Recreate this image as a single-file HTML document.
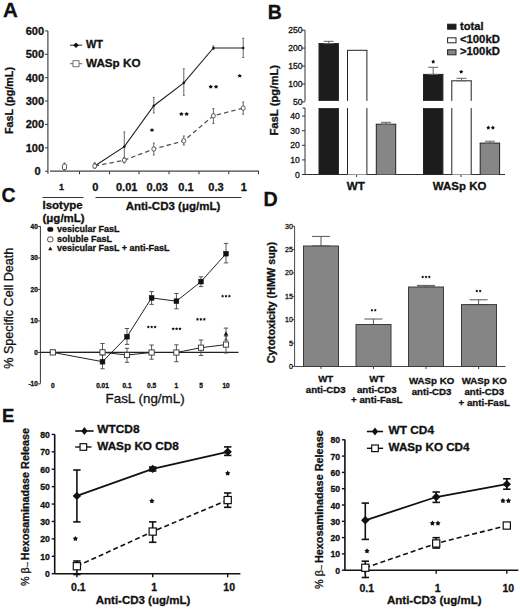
<!DOCTYPE html>
<html><head><meta charset="utf-8"><style>
html,body{margin:0;padding:0;background:#fff;width:520px;height:610px;overflow:hidden}
svg{display:block;font-family:"Liberation Sans", sans-serif}
text{stroke:#111;stroke-width:0.3px;paint-order:stroke}
</style></head><body>
<svg width="520" height="610" viewBox="0 0 520 610">
<rect width="520" height="610" fill="#fff"/>
<text x="3.0" y="16.7" font-size="20.5" font-weight="bold" text-anchor="start" fill="#111" >A</text>
<text x="267.8" y="18.7" font-size="19.5" font-weight="bold" text-anchor="start" fill="#111" >B</text>
<text x="1.5" y="201.5" font-size="19.5" font-weight="bold" text-anchor="start" fill="#111" >C</text>
<text x="263.5" y="206.3" font-size="19.5" font-weight="bold" text-anchor="start" fill="#111" textLength="14.2" lengthAdjust="spacingAndGlyphs" >D</text>
<text x="2.0" y="421.5" font-size="18.5" font-weight="bold" text-anchor="start" fill="#111" >E</text>
<line x1="47.9" y1="30.9" x2="47.9" y2="173.8" stroke="#444" stroke-width="1.2" />
<line x1="45.1" y1="171.2" x2="47.9" y2="171.2" stroke="#333" stroke-width="1" />
<text x="40.6" y="175.1" font-size="11" font-weight="bold" text-anchor="end" fill="#111" >0</text>
<line x1="45.1" y1="147.82" x2="47.9" y2="147.82" stroke="#333" stroke-width="1" />
<text x="44.1" y="151.72" font-size="11" font-weight="bold" text-anchor="end" fill="#111" >100</text>
<line x1="45.1" y1="124.44" x2="47.9" y2="124.44" stroke="#333" stroke-width="1" />
<text x="44.1" y="128.34" font-size="11" font-weight="bold" text-anchor="end" fill="#111" >200</text>
<line x1="45.1" y1="101.06" x2="47.9" y2="101.06" stroke="#333" stroke-width="1" />
<text x="44.1" y="104.96000000000001" font-size="11" font-weight="bold" text-anchor="end" fill="#111" >300</text>
<line x1="45.1" y1="77.68" x2="47.9" y2="77.68" stroke="#333" stroke-width="1" />
<text x="44.1" y="81.58000000000001" font-size="11" font-weight="bold" text-anchor="end" fill="#111" >400</text>
<line x1="45.1" y1="54.3" x2="47.9" y2="54.3" stroke="#333" stroke-width="1" />
<text x="44.1" y="58.199999999999996" font-size="11" font-weight="bold" text-anchor="end" fill="#111" >500</text>
<line x1="45.1" y1="30.92" x2="47.9" y2="30.92" stroke="#333" stroke-width="1" />
<text x="44.1" y="34.82" font-size="11" font-weight="bold" text-anchor="end" fill="#111" >600</text>
<line x1="50" y1="171.2" x2="259" y2="171.2" stroke="#444" stroke-width="1.2" />
<line x1="79.5" y1="171.2" x2="79.5" y2="174.2" stroke="#333" stroke-width="1" />
<line x1="109.5" y1="171.2" x2="109.5" y2="174.2" stroke="#333" stroke-width="1" />
<line x1="139" y1="171.2" x2="139" y2="174.2" stroke="#333" stroke-width="1" />
<line x1="169" y1="171.2" x2="169" y2="174.2" stroke="#333" stroke-width="1" />
<line x1="199" y1="171.2" x2="199" y2="174.2" stroke="#333" stroke-width="1" />
<line x1="228.8" y1="171.2" x2="228.8" y2="174.2" stroke="#333" stroke-width="1" />
<line x1="258.5" y1="171.2" x2="258.5" y2="174.2" stroke="#333" stroke-width="1" />
<line x1="94.7" y1="163" x2="94.7" y2="168" stroke="#666" stroke-width="1" />
<line x1="93.7" y1="163" x2="95.7" y2="163" stroke="#666" stroke-width="1" />
<line x1="93.7" y1="168" x2="95.7" y2="168" stroke="#666" stroke-width="1" />
<line x1="124.3" y1="132" x2="124.3" y2="159" stroke="#666" stroke-width="1" />
<line x1="123.3" y1="132" x2="125.3" y2="132" stroke="#666" stroke-width="1" />
<line x1="123.3" y1="159" x2="125.3" y2="159" stroke="#666" stroke-width="1" />
<line x1="153.8" y1="97.4" x2="153.8" y2="113" stroke="#666" stroke-width="1" />
<line x1="152.8" y1="97.4" x2="154.8" y2="97.4" stroke="#666" stroke-width="1" />
<line x1="152.8" y1="113" x2="154.8" y2="113" stroke="#666" stroke-width="1" />
<line x1="183.8" y1="68.8" x2="183.8" y2="95.3" stroke="#666" stroke-width="1" />
<line x1="182.8" y1="68.8" x2="184.8" y2="68.8" stroke="#666" stroke-width="1" />
<line x1="182.8" y1="95.3" x2="184.8" y2="95.3" stroke="#666" stroke-width="1" />
<line x1="213.4" y1="46" x2="213.4" y2="49.5" stroke="#666" stroke-width="1" />
<line x1="212.4" y1="46" x2="214.4" y2="46" stroke="#666" stroke-width="1" />
<line x1="212.4" y1="49.5" x2="214.4" y2="49.5" stroke="#666" stroke-width="1" />
<line x1="243.2" y1="38.3" x2="243.2" y2="57.5" stroke="#666" stroke-width="1" />
<line x1="242.2" y1="38.3" x2="244.2" y2="38.3" stroke="#666" stroke-width="1" />
<line x1="242.2" y1="57.5" x2="244.2" y2="57.5" stroke="#666" stroke-width="1" />
<line x1="94.7" y1="163" x2="94.7" y2="168" stroke="#666" stroke-width="1" />
<line x1="93.7" y1="163" x2="95.7" y2="163" stroke="#666" stroke-width="1" />
<line x1="93.7" y1="168" x2="95.7" y2="168" stroke="#666" stroke-width="1" />
<line x1="124.3" y1="157.5" x2="124.3" y2="163" stroke="#666" stroke-width="1" />
<line x1="123.3" y1="157.5" x2="125.3" y2="157.5" stroke="#666" stroke-width="1" />
<line x1="123.3" y1="163" x2="125.3" y2="163" stroke="#666" stroke-width="1" />
<line x1="153.8" y1="143" x2="153.8" y2="155" stroke="#666" stroke-width="1" />
<line x1="152.8" y1="143" x2="154.8" y2="143" stroke="#666" stroke-width="1" />
<line x1="152.8" y1="155" x2="154.8" y2="155" stroke="#666" stroke-width="1" />
<line x1="183.8" y1="136" x2="183.8" y2="145" stroke="#666" stroke-width="1" />
<line x1="182.8" y1="136" x2="184.8" y2="136" stroke="#666" stroke-width="1" />
<line x1="182.8" y1="145" x2="184.8" y2="145" stroke="#666" stroke-width="1" />
<line x1="213.4" y1="108.5" x2="213.4" y2="123.5" stroke="#666" stroke-width="1" />
<line x1="212.4" y1="108.5" x2="214.4" y2="108.5" stroke="#666" stroke-width="1" />
<line x1="212.4" y1="123.5" x2="214.4" y2="123.5" stroke="#666" stroke-width="1" />
<line x1="243.2" y1="102" x2="243.2" y2="114.2" stroke="#666" stroke-width="1" />
<line x1="242.2" y1="102" x2="244.2" y2="102" stroke="#666" stroke-width="1" />
<line x1="242.2" y1="114.2" x2="244.2" y2="114.2" stroke="#666" stroke-width="1" />
<polyline points="94.7,166.06 124.3,160.21 153.8,148.99 183.8,140.81 213.4,115.79 243.2,108.07" fill="none" stroke="#555" stroke-width="1.3" stroke-dasharray="4.5,3"/>
<polyline points="94.7,166.06 124.3,146.65 153.8,105.74 183.8,82.82 213.4,47.99 243.2,47.99" fill="none" stroke="#222" stroke-width="1.1"/>
<polygon points="94.7,164.46 96.3,166.06 94.7,167.66 93.10000000000001,166.06" fill="#111" stroke="none" stroke-width="1"/>
<polygon points="124.3,145.05 125.89999999999999,146.65 124.3,148.25 122.7,146.65" fill="#111" stroke="none" stroke-width="1"/>
<polygon points="153.8,104.14 155.4,105.74 153.8,107.33999999999999 152.20000000000002,105.74" fill="#111" stroke="none" stroke-width="1"/>
<polygon points="183.8,81.22 185.4,82.82 183.8,84.41999999999999 182.20000000000002,82.82" fill="#111" stroke="none" stroke-width="1"/>
<polygon points="213.4,46.39 215.0,47.99 213.4,49.59 211.8,47.99" fill="#111" stroke="none" stroke-width="1"/>
<polygon points="243.2,46.39 244.79999999999998,47.99 243.2,49.59 241.6,47.99" fill="#111" stroke="none" stroke-width="1"/>
<rect x="92.9" y="163.96" width="3.6" height="4.2" rx="1.4" fill="#fff" stroke="#444" stroke-width="0.9"/>
<rect x="122.5" y="158.11" width="3.6" height="4.2" rx="1.4" fill="#fff" stroke="#444" stroke-width="0.9"/>
<rect x="152.0" y="146.89000000000001" width="3.6" height="4.2" rx="1.4" fill="#fff" stroke="#444" stroke-width="0.9"/>
<rect x="182.0" y="138.71" width="3.6" height="4.2" rx="1.4" fill="#fff" stroke="#444" stroke-width="0.9"/>
<rect x="211.6" y="113.69000000000001" width="3.6" height="4.2" rx="1.4" fill="#fff" stroke="#444" stroke-width="0.9"/>
<rect x="241.39999999999998" y="105.97" width="3.6" height="4.2" rx="1.4" fill="#fff" stroke="#444" stroke-width="0.9"/>
<line x1="64.5" y1="163" x2="64.5" y2="170" stroke="#666" stroke-width="1" />
<line x1="63.5" y1="163" x2="65.5" y2="163" stroke="#666" stroke-width="1" />
<line x1="63.5" y1="170" x2="65.5" y2="170" stroke="#666" stroke-width="1" />
<rect x="62.4" y="164.0" width="4.2" height="5.6" rx="1.5" fill="#fff" stroke="#444" stroke-width="0.9"/>
<polygon points="152.00,128.10 152.82,129.18 154.28,129.51 153.32,130.51 153.41,131.79 152.00,131.32 150.59,131.79 150.68,130.51 149.72,129.51 151.18,129.18" fill="#111"/>
<polygon points="181.35,112.00 182.17,113.08 183.63,113.41 182.67,114.41 182.76,115.69 181.35,115.22 179.94,115.69 180.03,114.41 179.07,113.41 180.53,113.08" fill="#111"/>
<polygon points="186.65,112.00 187.47,113.08 188.93,113.41 187.97,114.41 188.06,115.69 186.65,115.22 185.24,115.69 185.33,114.41 184.37,113.41 185.83,113.08" fill="#111"/>
<polygon points="210.75,84.70 211.57,85.78 213.03,86.11 212.07,87.11 212.16,88.39 210.75,87.92 209.34,88.39 209.43,87.11 208.47,86.11 209.93,85.78" fill="#111"/>
<polygon points="216.05,84.70 216.87,85.78 218.33,86.11 217.37,87.11 217.46,88.39 216.05,87.92 214.64,88.39 214.73,87.11 213.77,86.11 215.23,85.78" fill="#111"/>
<polygon points="239.70,73.90 240.52,74.98 241.98,75.31 241.02,76.31 241.11,77.59 239.70,77.12 238.29,77.59 238.38,76.31 237.42,75.31 238.88,74.98" fill="#111"/>
<line x1="70" y1="45.2" x2="82.2" y2="45.2" stroke="#222" stroke-width="1" />
<polygon points="76,42.400000000000006 78.8,45.2 76,48.0 73.2,45.2" fill="#111" stroke="none" stroke-width="1"/>
<text x="86" y="47.8" font-size="11" font-weight="bold" text-anchor="start" fill="#111" textLength="17" lengthAdjust="spacingAndGlyphs" >WT</text>
<line x1="70" y1="63.7" x2="82.2" y2="63.7" stroke="#666" stroke-width="1" />
<rect x="73" y="60.7" width="6" height="6" rx="0" fill="#fff" stroke="#666" stroke-width="0.9"/>
<text x="86" y="66.9" font-size="11" font-weight="bold" text-anchor="start" fill="#111" textLength="54.5" lengthAdjust="spacingAndGlyphs" >WASp KO</text>
<text x="0" y="0" font-size="10.7" font-weight="bold" text-anchor="middle" fill="#111" transform="translate(12.7,100.5) rotate(-90)">FasL (pg/mL)</text>
<text x="61.6" y="190.2" font-size="9" font-weight="bold" text-anchor="middle" fill="#111" >1</text>
<text x="95.4" y="191.4" font-size="11" font-weight="bold" text-anchor="middle" fill="#111" >0</text>
<text x="126.7" y="191.4" font-size="11" font-weight="bold" text-anchor="middle" fill="#111" >0.01</text>
<text x="157.3" y="191.4" font-size="11" font-weight="bold" text-anchor="middle" fill="#111" >0.03</text>
<text x="186" y="191.4" font-size="11" font-weight="bold" text-anchor="middle" fill="#111" >0.1</text>
<text x="216" y="191.4" font-size="11" font-weight="bold" text-anchor="middle" fill="#111" >0.3</text>
<text x="243.8" y="191.4" font-size="11" font-weight="bold" text-anchor="middle" fill="#111" >1</text>
<line x1="42.5" y1="197.5" x2="83.5" y2="197.5" stroke="#333" stroke-width="1" />
<line x1="95.5" y1="197.5" x2="241.5" y2="197.5" stroke="#333" stroke-width="1" />
<text x="42.5" y="209" font-size="11.5" font-weight="bold" text-anchor="start" fill="#111" >Isotype</text>
<text x="42.5" y="222" font-size="11.5" font-weight="bold" text-anchor="start" fill="#111" >(&#956;g/mL)</text>
<text x="125.7" y="209.5" font-size="11.5" font-weight="bold" text-anchor="start" fill="#111" >Anti-CD3 (&#956;g/mL)</text>
<line x1="305" y1="30.2" x2="305" y2="101.4" stroke="#333" stroke-width="1" />
<line x1="305" y1="108" x2="305" y2="174.5" stroke="#333" stroke-width="1" />
<line x1="302.5" y1="108" x2="305" y2="108" stroke="#333" stroke-width="1" />
<line x1="302" y1="101.9" x2="305" y2="101.9" stroke="#333" stroke-width="1" />
<text x="302.5" y="105.0" font-size="8.6" font-weight="normal" text-anchor="end" fill="#111" >50</text>
<line x1="302" y1="83.97" x2="305" y2="83.97" stroke="#333" stroke-width="1" />
<text x="302.5" y="87.07" font-size="8.6" font-weight="normal" text-anchor="end" fill="#111" >100</text>
<line x1="302" y1="66.04" x2="305" y2="66.04" stroke="#333" stroke-width="1" />
<text x="302.5" y="69.14" font-size="8.6" font-weight="normal" text-anchor="end" fill="#111" >150</text>
<line x1="302" y1="48.11" x2="305" y2="48.11" stroke="#333" stroke-width="1" />
<text x="302.5" y="51.21" font-size="8.6" font-weight="normal" text-anchor="end" fill="#111" >200</text>
<line x1="302" y1="30.18" x2="305" y2="30.18" stroke="#333" stroke-width="1" />
<text x="302.5" y="33.28" font-size="8.6" font-weight="normal" text-anchor="end" fill="#111" >250</text>
<line x1="302" y1="174.5" x2="305" y2="174.5" stroke="#333" stroke-width="1" />
<text x="299.8" y="177.6" font-size="8.6" font-weight="normal" text-anchor="end" fill="#111" >0</text>
<line x1="302" y1="159.9" x2="305" y2="159.9" stroke="#333" stroke-width="1" />
<text x="299.8" y="163.0" font-size="8.6" font-weight="normal" text-anchor="end" fill="#111" >10</text>
<line x1="302" y1="145.3" x2="305" y2="145.3" stroke="#333" stroke-width="1" />
<text x="299.8" y="148.4" font-size="8.6" font-weight="normal" text-anchor="end" fill="#111" >20</text>
<line x1="302" y1="130.7" x2="305" y2="130.7" stroke="#333" stroke-width="1" />
<text x="299.8" y="133.79999999999998" font-size="8.6" font-weight="normal" text-anchor="end" fill="#111" >30</text>
<line x1="302" y1="116.1" x2="305" y2="116.1" stroke="#333" stroke-width="1" />
<text x="299.8" y="119.19999999999999" font-size="8.6" font-weight="normal" text-anchor="end" fill="#111" >40</text>
<line x1="305" y1="174.5" x2="505" y2="174.5" stroke="#333" stroke-width="1" />
<line x1="356.6" y1="174.5" x2="356.6" y2="177" stroke="#333" stroke-width="1" />
<line x1="461" y1="174.5" x2="461" y2="177" stroke="#333" stroke-width="1" />
<rect x="319" y="43.6" width="19.4" height="57.300000000000004" rx="0" fill="#1c1c1c" stroke="none" stroke-width="1"/>
<line x1="319" y1="43.6" x2="319" y2="100.9" stroke="#222" stroke-width="1" />
<line x1="338.4" y1="43.6" x2="338.4" y2="100.9" stroke="#222" stroke-width="1" />
<line x1="318.5" y1="43.6" x2="338.9" y2="43.6" stroke="#222" stroke-width="1" />
<rect x="319" y="108.1" width="19.4" height="66.4" rx="0" fill="#1c1c1c" stroke="none" stroke-width="1"/>
<line x1="319" y1="108.1" x2="319" y2="174.5" stroke="#222" stroke-width="1" />
<line x1="338.4" y1="108.1" x2="338.4" y2="174.5" stroke="#222" stroke-width="1" />
<rect x="347.5" y="50.3" width="19.4" height="50.60000000000001" rx="0" fill="#fff" stroke="none" stroke-width="1"/>
<line x1="347.5" y1="50.3" x2="347.5" y2="100.9" stroke="#222" stroke-width="1" />
<line x1="366.9" y1="50.3" x2="366.9" y2="100.9" stroke="#222" stroke-width="1" />
<line x1="347.0" y1="50.3" x2="367.4" y2="50.3" stroke="#222" stroke-width="1" />
<rect x="347.5" y="108.1" width="19.4" height="66.4" rx="0" fill="#fff" stroke="none" stroke-width="1"/>
<line x1="347.5" y1="108.1" x2="347.5" y2="174.5" stroke="#222" stroke-width="1" />
<line x1="366.9" y1="108.1" x2="366.9" y2="174.5" stroke="#222" stroke-width="1" />
<rect x="376.3" y="124.2" width="19.4" height="50.3" rx="0" fill="#868686" stroke="none" stroke-width="1"/>
<line x1="376.3" y1="124.2" x2="376.3" y2="174.5" stroke="#222" stroke-width="1" />
<line x1="395.7" y1="124.2" x2="395.7" y2="174.5" stroke="#222" stroke-width="1" />
<line x1="375.8" y1="124.2" x2="396.2" y2="124.2" stroke="#222" stroke-width="1" />
<rect x="423.5" y="74.4" width="19.4" height="26.5" rx="0" fill="#1c1c1c" stroke="none" stroke-width="1"/>
<line x1="423.5" y1="74.4" x2="423.5" y2="100.9" stroke="#222" stroke-width="1" />
<line x1="442.9" y1="74.4" x2="442.9" y2="100.9" stroke="#222" stroke-width="1" />
<line x1="423.0" y1="74.4" x2="443.4" y2="74.4" stroke="#222" stroke-width="1" />
<rect x="423.5" y="108.1" width="19.4" height="66.4" rx="0" fill="#1c1c1c" stroke="none" stroke-width="1"/>
<line x1="423.5" y1="108.1" x2="423.5" y2="174.5" stroke="#222" stroke-width="1" />
<line x1="442.9" y1="108.1" x2="442.9" y2="174.5" stroke="#222" stroke-width="1" />
<rect x="451.8" y="80.8" width="19.4" height="20.10000000000001" rx="0" fill="#fff" stroke="none" stroke-width="1"/>
<line x1="451.8" y1="80.8" x2="451.8" y2="100.9" stroke="#222" stroke-width="1" />
<line x1="471.2" y1="80.8" x2="471.2" y2="100.9" stroke="#222" stroke-width="1" />
<line x1="451.3" y1="80.8" x2="471.7" y2="80.8" stroke="#222" stroke-width="1" />
<rect x="451.8" y="108.1" width="19.4" height="66.4" rx="0" fill="#fff" stroke="none" stroke-width="1"/>
<line x1="451.8" y1="108.1" x2="451.8" y2="174.5" stroke="#222" stroke-width="1" />
<line x1="471.2" y1="108.1" x2="471.2" y2="174.5" stroke="#222" stroke-width="1" />
<rect x="480.2" y="143.1" width="19.4" height="31.400000000000006" rx="0" fill="#868686" stroke="none" stroke-width="1"/>
<line x1="480.2" y1="143.1" x2="480.2" y2="174.5" stroke="#222" stroke-width="1" />
<line x1="499.59999999999997" y1="143.1" x2="499.59999999999997" y2="174.5" stroke="#222" stroke-width="1" />
<line x1="479.7" y1="143.1" x2="500.09999999999997" y2="143.1" stroke="#222" stroke-width="1" />
<line x1="328.7" y1="41.3" x2="328.7" y2="43.6" stroke="#666" stroke-width="1" />
<line x1="323.7" y1="41.3" x2="333.7" y2="41.3" stroke="#666" stroke-width="1" />
<line x1="323.7" y1="43.6" x2="333.7" y2="43.6" stroke="#666" stroke-width="1" />
<line x1="433.2" y1="67.3" x2="433.2" y2="74.4" stroke="#666" stroke-width="1" />
<line x1="428.2" y1="67.3" x2="438.2" y2="67.3" stroke="#666" stroke-width="1" />
<line x1="428.2" y1="74.4" x2="438.2" y2="74.4" stroke="#666" stroke-width="1" />
<line x1="461.5" y1="78.3" x2="461.5" y2="80.8" stroke="#666" stroke-width="1" />
<line x1="456.5" y1="78.3" x2="466.5" y2="78.3" stroke="#666" stroke-width="1" />
<line x1="456.5" y1="80.8" x2="466.5" y2="80.8" stroke="#666" stroke-width="1" />
<line x1="386.0" y1="122.3" x2="386.0" y2="124.2" stroke="#666" stroke-width="1" />
<line x1="381.0" y1="122.3" x2="391.0" y2="122.3" stroke="#666" stroke-width="1" />
<line x1="381.0" y1="124.2" x2="391.0" y2="124.2" stroke="#666" stroke-width="1" />
<line x1="489.9" y1="141.2" x2="489.9" y2="143.1" stroke="#666" stroke-width="1" />
<line x1="484.9" y1="141.2" x2="494.9" y2="141.2" stroke="#666" stroke-width="1" />
<line x1="484.9" y1="143.1" x2="494.9" y2="143.1" stroke="#666" stroke-width="1" />
<polygon points="433.20,59.61 433.92,60.72 435.20,61.06 434.36,62.09 434.43,63.41 433.20,62.93 431.97,63.41 432.04,62.09 431.20,61.06 432.48,60.72" fill="#111"/>
<polygon points="461.20,69.71 461.92,70.82 463.20,71.16 462.36,72.19 462.43,73.51 461.20,73.03 459.97,73.51 460.04,72.19 459.20,71.16 460.48,70.82" fill="#111"/>
<polygon points="488.30,125.61 489.02,126.72 490.30,127.06 489.46,128.09 489.53,129.41 488.30,128.93 487.07,129.41 487.14,128.09 486.30,127.06 487.58,126.72" fill="#111"/>
<polygon points="492.90,125.61 493.62,126.72 494.90,127.06 494.06,128.09 494.13,129.41 492.90,128.93 491.67,129.41 491.74,128.09 490.90,127.06 492.18,126.72" fill="#111"/>
<rect x="447.6" y="24.2" width="8.4" height="5" rx="0" fill="#1c1c1c" stroke="#222" stroke-width="1"/>
<rect x="447.6" y="37.8" width="8.4" height="5" rx="0" fill="#fff" stroke="#222" stroke-width="1"/>
<rect x="447.6" y="49.8" width="8.4" height="5" rx="0" fill="#868686" stroke="#222" stroke-width="1"/>
<text x="460" y="30.2" font-size="11" font-weight="bold" text-anchor="start" fill="#111" textLength="23.5" lengthAdjust="spacingAndGlyphs" >total</text>
<text x="460" y="43" font-size="11" font-weight="bold" text-anchor="start" fill="#111" textLength="39.8" lengthAdjust="spacingAndGlyphs" >&lt;100kD</text>
<text x="460" y="55.2" font-size="11" font-weight="bold" text-anchor="start" fill="#111" textLength="39.8" lengthAdjust="spacingAndGlyphs" >&gt;100kD</text>
<text x="0" y="0" font-size="11.3" font-weight="bold" text-anchor="middle" fill="#111" transform="translate(277.6,100.25) rotate(-90)">FasL (pg/mL)</text>
<text x="355.8" y="189.8" font-size="11.2" font-weight="bold" text-anchor="middle" fill="#111" textLength="18" lengthAdjust="spacingAndGlyphs" >WT</text>
<text x="459.6" y="189.7" font-size="11.2" font-weight="bold" text-anchor="middle" fill="#111" textLength="53.5" lengthAdjust="spacingAndGlyphs" >WASp KO</text>
<line x1="40.4" y1="226.2" x2="40.4" y2="383.6" stroke="#333" stroke-width="1" />
<line x1="38.1" y1="226.48" x2="40.4" y2="226.48" stroke="#333" stroke-width="1" />
<text x="37.8" y="228.78" font-size="6.5" font-weight="bold" text-anchor="end" fill="#111" >40</text>
<line x1="38.1" y1="257.96" x2="40.4" y2="257.96" stroke="#333" stroke-width="1" />
<text x="37.8" y="260.26" font-size="6.5" font-weight="bold" text-anchor="end" fill="#111" >30</text>
<line x1="38.1" y1="289.44" x2="40.4" y2="289.44" stroke="#333" stroke-width="1" />
<text x="37.8" y="291.74" font-size="6.5" font-weight="bold" text-anchor="end" fill="#111" >20</text>
<line x1="38.1" y1="320.92" x2="40.4" y2="320.92" stroke="#333" stroke-width="1" />
<text x="37.8" y="323.22" font-size="6.5" font-weight="bold" text-anchor="end" fill="#111" >10</text>
<line x1="38.1" y1="352.4" x2="40.4" y2="352.4" stroke="#333" stroke-width="1" />
<text x="37.8" y="354.7" font-size="6.5" font-weight="bold" text-anchor="end" fill="#111" >0</text>
<line x1="38.1" y1="383.88" x2="40.4" y2="383.88" stroke="#333" stroke-width="1" />
<text x="37.8" y="386.18" font-size="6.5" font-weight="bold" text-anchor="end" fill="#111" >-10</text>
<line x1="40.4" y1="352.4" x2="238.5" y2="352.4" stroke="#222" stroke-width="1.4" />
<text x="52.8" y="387.8" font-size="6.5" font-weight="bold" text-anchor="middle" fill="#111" >0</text>
<text x="102.5" y="387.8" font-size="6.5" font-weight="bold" text-anchor="middle" fill="#111" >0.01</text>
<text x="127" y="387.8" font-size="6.5" font-weight="bold" text-anchor="middle" fill="#111" >0.1</text>
<text x="151.6" y="387.8" font-size="6.5" font-weight="bold" text-anchor="middle" fill="#111" >0.5</text>
<text x="176.4" y="387.8" font-size="6.5" font-weight="bold" text-anchor="middle" fill="#111" >1</text>
<text x="201" y="387.8" font-size="6.5" font-weight="bold" text-anchor="middle" fill="#111" >5</text>
<text x="226" y="387.8" font-size="6.5" font-weight="bold" text-anchor="middle" fill="#111" >10</text>
<line x1="102.5" y1="355" x2="102.5" y2="368.8" stroke="#444" stroke-width="0.9" />
<line x1="100.3" y1="355" x2="104.7" y2="355" stroke="#444" stroke-width="0.9" />
<line x1="100.3" y1="368.8" x2="104.7" y2="368.8" stroke="#444" stroke-width="0.9" />
<line x1="127" y1="328.5" x2="127" y2="344.4" stroke="#444" stroke-width="0.9" />
<line x1="124.8" y1="328.5" x2="129.2" y2="328.5" stroke="#444" stroke-width="0.9" />
<line x1="124.8" y1="344.4" x2="129.2" y2="344.4" stroke="#444" stroke-width="0.9" />
<line x1="151.6" y1="291.5" x2="151.6" y2="304.4" stroke="#444" stroke-width="0.9" />
<line x1="149.4" y1="291.5" x2="153.79999999999998" y2="291.5" stroke="#444" stroke-width="0.9" />
<line x1="149.4" y1="304.4" x2="153.79999999999998" y2="304.4" stroke="#444" stroke-width="0.9" />
<line x1="176.4" y1="293.5" x2="176.4" y2="308.8" stroke="#444" stroke-width="0.9" />
<line x1="174.20000000000002" y1="293.5" x2="178.6" y2="293.5" stroke="#444" stroke-width="0.9" />
<line x1="174.20000000000002" y1="308.8" x2="178.6" y2="308.8" stroke="#444" stroke-width="0.9" />
<line x1="201" y1="276.8" x2="201" y2="286.6" stroke="#444" stroke-width="0.9" />
<line x1="198.8" y1="276.8" x2="203.2" y2="276.8" stroke="#444" stroke-width="0.9" />
<line x1="198.8" y1="286.6" x2="203.2" y2="286.6" stroke="#444" stroke-width="0.9" />
<line x1="226" y1="243.4" x2="226" y2="262.9" stroke="#444" stroke-width="0.9" />
<line x1="223.8" y1="243.4" x2="228.2" y2="243.4" stroke="#444" stroke-width="0.9" />
<line x1="223.8" y1="262.9" x2="228.2" y2="262.9" stroke="#444" stroke-width="0.9" />
<line x1="102.5" y1="343.5" x2="102.5" y2="360.5" stroke="#444" stroke-width="0.9" />
<line x1="100.3" y1="343.5" x2="104.7" y2="343.5" stroke="#444" stroke-width="0.9" />
<line x1="100.3" y1="360.5" x2="104.7" y2="360.5" stroke="#444" stroke-width="0.9" />
<line x1="127" y1="348.3" x2="127" y2="362.3" stroke="#444" stroke-width="0.9" />
<line x1="124.8" y1="348.3" x2="129.2" y2="348.3" stroke="#444" stroke-width="0.9" />
<line x1="124.8" y1="362.3" x2="129.2" y2="362.3" stroke="#444" stroke-width="0.9" />
<line x1="151.6" y1="345" x2="151.6" y2="359.2" stroke="#444" stroke-width="0.9" />
<line x1="149.4" y1="345" x2="153.79999999999998" y2="345" stroke="#444" stroke-width="0.9" />
<line x1="149.4" y1="359.2" x2="153.79999999999998" y2="359.2" stroke="#444" stroke-width="0.9" />
<line x1="176.4" y1="344.8" x2="176.4" y2="361.7" stroke="#444" stroke-width="0.9" />
<line x1="174.20000000000002" y1="344.8" x2="178.6" y2="344.8" stroke="#444" stroke-width="0.9" />
<line x1="174.20000000000002" y1="361.7" x2="178.6" y2="361.7" stroke="#444" stroke-width="0.9" />
<line x1="201" y1="340" x2="201" y2="355.5" stroke="#444" stroke-width="0.9" />
<line x1="198.8" y1="340" x2="203.2" y2="340" stroke="#444" stroke-width="0.9" />
<line x1="198.8" y1="355.5" x2="203.2" y2="355.5" stroke="#444" stroke-width="0.9" />
<line x1="226" y1="336" x2="226" y2="353" stroke="#444" stroke-width="0.9" />
<line x1="223.8" y1="336" x2="228.2" y2="336" stroke="#444" stroke-width="0.9" />
<line x1="223.8" y1="353" x2="228.2" y2="353" stroke="#444" stroke-width="0.9" />
<line x1="226" y1="328.1" x2="226" y2="340" stroke="#444" stroke-width="0.9" />
<line x1="223.8" y1="328.1" x2="228.2" y2="328.1" stroke="#444" stroke-width="0.9" />
<line x1="223.8" y1="340" x2="228.2" y2="340" stroke="#444" stroke-width="0.9" />
<polyline points="52.8,352.4 102.5,352.3 127,355 151.6,352.5 176.4,352.5 201,347.7 226,344.6" fill="none" stroke="#222" stroke-width="1"/>
<polyline points="52.8,352.4 102.5,361.7 127,336.7 151.6,297.9 176.4,301.2 201,281.6 226,253.7" fill="none" stroke="#222" stroke-width="1"/>
<rect x="50.4" y="350.0" width="4.8" height="4.8" rx="0" fill="#111" stroke="#111" stroke-width="0.5"/>
<rect x="100.1" y="359.3" width="4.8" height="4.8" rx="0" fill="#111" stroke="#111" stroke-width="0.5"/>
<rect x="124.6" y="334.3" width="4.8" height="4.8" rx="0" fill="#111" stroke="#111" stroke-width="0.5"/>
<rect x="149.2" y="295.5" width="4.8" height="4.8" rx="0" fill="#111" stroke="#111" stroke-width="0.5"/>
<rect x="174.0" y="298.8" width="4.8" height="4.8" rx="0" fill="#111" stroke="#111" stroke-width="0.5"/>
<rect x="198.6" y="279.20000000000005" width="4.8" height="4.8" rx="0" fill="#111" stroke="#111" stroke-width="0.5"/>
<rect x="223.6" y="251.29999999999998" width="4.8" height="4.8" rx="0" fill="#111" stroke="#111" stroke-width="0.5"/>
<rect x="50.199999999999996" y="349.79999999999995" width="5.2" height="5.2" rx="0" fill="#fff" stroke="#333" stroke-width="0.9"/>
<rect x="99.9" y="349.7" width="5.2" height="5.2" rx="0" fill="#fff" stroke="#333" stroke-width="0.9"/>
<rect x="124.4" y="352.4" width="5.2" height="5.2" rx="0" fill="#fff" stroke="#333" stroke-width="0.9"/>
<rect x="149.0" y="349.9" width="5.2" height="5.2" rx="0" fill="#fff" stroke="#333" stroke-width="0.9"/>
<rect x="173.8" y="349.9" width="5.2" height="5.2" rx="0" fill="#fff" stroke="#333" stroke-width="0.9"/>
<rect x="198.4" y="345.09999999999997" width="5.2" height="5.2" rx="0" fill="#fff" stroke="#333" stroke-width="0.9"/>
<rect x="223.4" y="342.0" width="5.2" height="5.2" rx="0" fill="#fff" stroke="#333" stroke-width="0.9"/>
<polygon points="226,331.4 228.3,335.53999999999996 223.7,335.53999999999996" fill="#111"/>
<polygon points="148.30,325.46 148.85,326.31 149.82,326.57 149.18,327.35 149.24,328.35 148.30,327.99 147.36,328.35 147.42,327.35 146.78,326.57 147.75,326.31" fill="#111"/>
<polygon points="151.70,325.46 152.25,326.31 153.22,326.57 152.58,327.35 152.64,328.35 151.70,327.99 150.76,328.35 150.82,327.35 150.18,326.57 151.15,326.31" fill="#111"/>
<polygon points="155.10,325.46 155.65,326.31 156.62,326.57 155.98,327.35 156.04,328.35 155.10,327.99 154.16,328.35 154.22,327.35 153.58,326.57 154.55,326.31" fill="#111"/>
<polygon points="173.20,327.26 173.75,328.11 174.72,328.37 174.08,329.15 174.14,330.15 173.20,329.79 172.26,330.15 172.32,329.15 171.68,328.37 172.65,328.11" fill="#111"/>
<polygon points="176.60,327.26 177.15,328.11 178.12,328.37 177.48,329.15 177.54,330.15 176.60,329.79 175.66,330.15 175.72,329.15 175.08,328.37 176.05,328.11" fill="#111"/>
<polygon points="180.00,327.26 180.55,328.11 181.52,328.37 180.88,329.15 180.94,330.15 180.00,329.79 179.06,330.15 179.12,329.15 178.48,328.37 179.45,328.11" fill="#111"/>
<polygon points="197.50,317.76 198.05,318.61 199.02,318.87 198.38,319.65 198.44,320.65 197.50,320.29 196.56,320.65 196.62,319.65 195.98,318.87 196.95,318.61" fill="#111"/>
<polygon points="200.90,317.76 201.45,318.61 202.42,318.87 201.78,319.65 201.84,320.65 200.90,320.29 199.96,320.65 200.02,319.65 199.38,318.87 200.35,318.61" fill="#111"/>
<polygon points="204.30,317.76 204.85,318.61 205.82,318.87 205.18,319.65 205.24,320.65 204.30,320.29 203.36,320.65 203.42,319.65 202.78,318.87 203.75,318.61" fill="#111"/>
<polygon points="222.60,294.56 223.15,295.41 224.12,295.67 223.48,296.45 223.54,297.45 222.60,297.09 221.66,297.45 221.72,296.45 221.08,295.67 222.05,295.41" fill="#111"/>
<polygon points="226.00,294.56 226.55,295.41 227.52,295.67 226.88,296.45 226.94,297.45 226.00,297.09 225.06,297.45 225.12,296.45 224.48,295.67 225.45,295.41" fill="#111"/>
<polygon points="229.40,294.56 229.95,295.41 230.92,295.67 230.28,296.45 230.34,297.45 229.40,297.09 228.46,297.45 228.52,296.45 227.88,295.67 228.85,295.41" fill="#111"/>
<rect x="47.599999999999994" y="227.20000000000002" width="5.4" height="4.2" rx="1.5" fill="#111" stroke="#111" stroke-width="0.5"/>
<rect x="47.699999999999996" y="237.0" width="5.2" height="4.8" rx="1.5" fill="#fff" stroke="#333" stroke-width="0.9"/>
<polygon points="50.3,246.5 52.4,250.28 48.199999999999996,250.28" fill="#111"/>
<text x="56.9" y="232" font-size="9" font-weight="bold" text-anchor="start" fill="#111" >vesicular FasL</text>
<text x="56.9" y="241.6" font-size="9" font-weight="bold" text-anchor="start" fill="#111" >soluble FasL</text>
<text x="56.9" y="250.8" font-size="9" font-weight="bold" text-anchor="start" fill="#111" >vesicular FasL + anti-FasL</text>
<text x="0" y="0" font-size="12.6" font-weight="normal" text-anchor="middle" fill="#111" transform="translate(12.7,308.2) rotate(-90)">% Specific Cell Death</text>
<text x="105.5" y="402.8" font-size="13.4" font-weight="normal" text-anchor="start" fill="#111" >FasL (ng/mL)</text>
<line x1="294.6" y1="226.2" x2="294.6" y2="366.5" stroke="#444" stroke-width="1" />
<line x1="292.3" y1="366.5" x2="294.6" y2="366.5" stroke="#444" stroke-width="1" />
<text x="292.9" y="369.0" font-size="7" font-weight="normal" text-anchor="end" fill="#111" >0</text>
<line x1="292.3" y1="343.12" x2="294.6" y2="343.12" stroke="#444" stroke-width="1" />
<text x="292.9" y="345.62" font-size="7" font-weight="normal" text-anchor="end" fill="#111" >5</text>
<line x1="292.3" y1="319.73" x2="294.6" y2="319.73" stroke="#444" stroke-width="1" />
<text x="292.9" y="322.23" font-size="7" font-weight="normal" text-anchor="end" fill="#111" >10</text>
<line x1="292.3" y1="296.35" x2="294.6" y2="296.35" stroke="#444" stroke-width="1" />
<text x="292.9" y="298.85" font-size="7" font-weight="normal" text-anchor="end" fill="#111" >15</text>
<line x1="292.3" y1="272.96" x2="294.6" y2="272.96" stroke="#444" stroke-width="1" />
<text x="292.9" y="275.46" font-size="7" font-weight="normal" text-anchor="end" fill="#111" >20</text>
<line x1="292.3" y1="249.58" x2="294.6" y2="249.58" stroke="#444" stroke-width="1" />
<text x="292.9" y="252.08" font-size="7" font-weight="normal" text-anchor="end" fill="#111" >25</text>
<line x1="292.3" y1="226.19" x2="294.6" y2="226.19" stroke="#444" stroke-width="1" />
<text x="292.9" y="228.69" font-size="7" font-weight="normal" text-anchor="end" fill="#111" >30</text>
<line x1="294.6" y1="366.5" x2="505.5" y2="366.5" stroke="#444" stroke-width="1" />
<line x1="321" y1="236.4" x2="321" y2="246" stroke="#555" stroke-width="1" />
<line x1="312" y1="236.4" x2="330" y2="236.4" stroke="#555" stroke-width="1" />
<line x1="312" y1="246" x2="330" y2="246" stroke="#555" stroke-width="1" />
<rect x="303.5" y="246" width="35" height="120.5" rx="0" fill="#858585" stroke="#3a3a3a" stroke-width="1"/>
<line x1="321" y1="366.5" x2="321" y2="369" stroke="#444" stroke-width="1" />
<line x1="373.4" y1="319" x2="373.4" y2="324.5" stroke="#555" stroke-width="1" />
<line x1="364.4" y1="319" x2="382.4" y2="319" stroke="#555" stroke-width="1" />
<line x1="364.4" y1="324.5" x2="382.4" y2="324.5" stroke="#555" stroke-width="1" />
<rect x="356" y="324.5" width="35" height="42.0" rx="0" fill="#858585" stroke="#3a3a3a" stroke-width="1"/>
<line x1="373.4" y1="366.5" x2="373.4" y2="369" stroke="#444" stroke-width="1" />
<line x1="426" y1="285.4" x2="426" y2="287" stroke="#555" stroke-width="1" />
<line x1="417" y1="285.4" x2="435" y2="285.4" stroke="#555" stroke-width="1" />
<line x1="417" y1="287" x2="435" y2="287" stroke="#555" stroke-width="1" />
<rect x="408.5" y="287" width="35" height="79.5" rx="0" fill="#858585" stroke="#3a3a3a" stroke-width="1"/>
<line x1="426" y1="366.5" x2="426" y2="369" stroke="#444" stroke-width="1" />
<line x1="478.6" y1="299.8" x2="478.6" y2="304.6" stroke="#555" stroke-width="1" />
<line x1="469.6" y1="299.8" x2="487.6" y2="299.8" stroke="#555" stroke-width="1" />
<line x1="469.6" y1="304.6" x2="487.6" y2="304.6" stroke="#555" stroke-width="1" />
<rect x="461.5" y="304.6" width="35" height="61.89999999999998" rx="0" fill="#858585" stroke="#3a3a3a" stroke-width="1"/>
<line x1="478.6" y1="366.5" x2="478.6" y2="369" stroke="#444" stroke-width="1" />
<polygon points="371.95,308.75 372.46,309.55 373.38,309.79 372.78,310.52 372.83,311.46 371.95,311.12 371.07,311.46 371.12,310.52 370.52,309.79 371.44,309.55" fill="#111"/>
<polygon points="375.25,308.75 375.76,309.55 376.68,309.79 376.08,310.52 376.13,311.46 375.25,311.12 374.37,311.46 374.42,310.52 373.82,309.79 374.74,309.55" fill="#111"/>
<polygon points="422.70,275.55 423.21,276.35 424.13,276.59 423.53,277.32 423.58,278.26 422.70,277.92 421.82,278.26 421.87,277.32 421.27,276.59 422.19,276.35" fill="#111"/>
<polygon points="426.00,275.55 426.51,276.35 427.43,276.59 426.83,277.32 426.88,278.26 426.00,277.92 425.12,278.26 425.17,277.32 424.57,276.59 425.49,276.35" fill="#111"/>
<polygon points="429.30,275.55 429.81,276.35 430.73,276.59 430.13,277.32 430.18,278.26 429.30,277.92 428.42,278.26 428.47,277.32 427.87,276.59 428.79,276.35" fill="#111"/>
<polygon points="476.85,289.55 477.36,290.35 478.28,290.59 477.68,291.32 477.73,292.26 476.85,291.92 475.97,292.26 476.02,291.32 475.42,290.59 476.34,290.35" fill="#111"/>
<polygon points="480.15,289.55 480.66,290.35 481.58,290.59 480.98,291.32 481.03,292.26 480.15,291.92 479.27,292.26 479.32,291.32 478.72,290.59 479.64,290.35" fill="#111"/>
<text x="0" y="0" font-size="10.8" font-weight="bold" text-anchor="middle" fill="#111" transform="translate(274.8,302.6) rotate(-90)">Cytotoxicity (HMW sup)</text>
<text x="325.7" y="381.6" font-size="9.7" font-weight="bold" text-anchor="middle" fill="#111" >WT</text>
<text x="325.7" y="392.5" font-size="9.7" font-weight="bold" text-anchor="middle" fill="#111" >anti-CD3</text>
<text x="376.8" y="381.6" font-size="9.7" font-weight="bold" text-anchor="middle" fill="#111" >WT</text>
<text x="376.8" y="392.5" font-size="9.7" font-weight="bold" text-anchor="middle" fill="#111" >anti-CD3</text>
<text x="376.8" y="403.40000000000003" font-size="9.7" font-weight="bold" text-anchor="middle" fill="#111" >+ anti-FasL</text>
<text x="431.6" y="383.9" font-size="9.7" font-weight="bold" text-anchor="middle" fill="#111" >WASp KO</text>
<text x="431.6" y="394.79999999999995" font-size="9.7" font-weight="bold" text-anchor="middle" fill="#111" >anti-CD3</text>
<text x="484.3" y="383.9" font-size="9.7" font-weight="bold" text-anchor="middle" fill="#111" >WASp KO</text>
<text x="484.3" y="394.79999999999995" font-size="9.7" font-weight="bold" text-anchor="middle" fill="#111" >anti-CD3</text>
<text x="484.3" y="405.7" font-size="9.7" font-weight="bold" text-anchor="middle" fill="#111" >+ anti-FasL</text>
<line x1="54.7" y1="434.4" x2="54.7" y2="573.7" stroke="#111" stroke-width="1.6" />
<line x1="51.7" y1="573.7" x2="54.7" y2="573.7" stroke="#111" stroke-width="1.4" />
<text x="49.900000000000006" y="577.2" font-size="8.7" font-weight="bold" text-anchor="end" fill="#111" >0</text>
<line x1="51.7" y1="556.29" x2="54.7" y2="556.29" stroke="#111" stroke-width="1.4" />
<text x="49.900000000000006" y="559.79" font-size="8.7" font-weight="bold" text-anchor="end" fill="#111" >10</text>
<line x1="51.7" y1="538.88" x2="54.7" y2="538.88" stroke="#111" stroke-width="1.4" />
<text x="49.900000000000006" y="542.38" font-size="8.7" font-weight="bold" text-anchor="end" fill="#111" >20</text>
<line x1="51.7" y1="521.47" x2="54.7" y2="521.47" stroke="#111" stroke-width="1.4" />
<text x="49.900000000000006" y="524.97" font-size="8.7" font-weight="bold" text-anchor="end" fill="#111" >30</text>
<line x1="51.7" y1="504.06" x2="54.7" y2="504.06" stroke="#111" stroke-width="1.4" />
<text x="49.900000000000006" y="507.56" font-size="8.7" font-weight="bold" text-anchor="end" fill="#111" >40</text>
<line x1="51.7" y1="486.65" x2="54.7" y2="486.65" stroke="#111" stroke-width="1.4" />
<text x="49.900000000000006" y="490.15" font-size="8.7" font-weight="bold" text-anchor="end" fill="#111" >50</text>
<line x1="51.7" y1="469.24" x2="54.7" y2="469.24" stroke="#111" stroke-width="1.4" />
<text x="49.900000000000006" y="472.74" font-size="8.7" font-weight="bold" text-anchor="end" fill="#111" >60</text>
<line x1="51.7" y1="451.83" x2="54.7" y2="451.83" stroke="#111" stroke-width="1.4" />
<text x="49.900000000000006" y="455.33" font-size="8.7" font-weight="bold" text-anchor="end" fill="#111" >70</text>
<line x1="51.7" y1="434.42" x2="54.7" y2="434.42" stroke="#111" stroke-width="1.4" />
<text x="49.900000000000006" y="437.92" font-size="8.7" font-weight="bold" text-anchor="end" fill="#111" >80</text>
<line x1="54.7" y1="573.7" x2="240.4" y2="573.7" stroke="#111" stroke-width="1.6" />
<line x1="76.9" y1="573.7" x2="76.9" y2="577.2" stroke="#111" stroke-width="1.4" />
<line x1="152.7" y1="573.7" x2="152.7" y2="577.2" stroke="#111" stroke-width="1.4" />
<line x1="227.7" y1="573.7" x2="227.7" y2="577.2" stroke="#111" stroke-width="1.4" />
<line x1="76.9" y1="470" x2="76.9" y2="521.9" stroke="#111" stroke-width="1.6" />
<line x1="73.2" y1="470" x2="80.60000000000001" y2="470" stroke="#111" stroke-width="1.6" />
<line x1="73.2" y1="521.9" x2="80.60000000000001" y2="521.9" stroke="#111" stroke-width="1.6" />
<line x1="152.7" y1="467" x2="152.7" y2="471" stroke="#111" stroke-width="1.6" />
<line x1="149.0" y1="467" x2="156.39999999999998" y2="467" stroke="#111" stroke-width="1.6" />
<line x1="149.0" y1="471" x2="156.39999999999998" y2="471" stroke="#111" stroke-width="1.6" />
<line x1="227.7" y1="446.9" x2="227.7" y2="455.4" stroke="#111" stroke-width="1.6" />
<line x1="224.0" y1="446.9" x2="231.39999999999998" y2="446.9" stroke="#111" stroke-width="1.6" />
<line x1="224.0" y1="455.4" x2="231.39999999999998" y2="455.4" stroke="#111" stroke-width="1.6" />
<line x1="76.9" y1="561" x2="76.9" y2="574.5" stroke="#111" stroke-width="1.6" />
<line x1="73.2" y1="561" x2="80.60000000000001" y2="561" stroke="#111" stroke-width="1.6" />
<line x1="73.2" y1="574.5" x2="80.60000000000001" y2="574.5" stroke="#111" stroke-width="1.6" />
<line x1="152.7" y1="521.9" x2="152.7" y2="542.3" stroke="#111" stroke-width="1.6" />
<line x1="149.0" y1="521.9" x2="156.39999999999998" y2="521.9" stroke="#111" stroke-width="1.6" />
<line x1="149.0" y1="542.3" x2="156.39999999999998" y2="542.3" stroke="#111" stroke-width="1.6" />
<line x1="227.7" y1="493" x2="227.7" y2="507.3" stroke="#111" stroke-width="1.6" />
<line x1="224.0" y1="493" x2="231.39999999999998" y2="493" stroke="#111" stroke-width="1.6" />
<line x1="224.0" y1="507.3" x2="231.39999999999998" y2="507.3" stroke="#111" stroke-width="1.6" />
<polyline points="76.9,566.21 152.7,531.57 227.7,500.06" fill="none" stroke="#111" stroke-width="1.6" stroke-dasharray="5,3"/>
<polyline points="76.9,495.88 152.7,468.89 227.7,451.83" fill="none" stroke="#111" stroke-width="1.8"/>
<polygon points="76.9,491.68 81.10000000000001,495.88 76.9,500.08 72.7,495.88" fill="#111" stroke="none" stroke-width="1"/>
<polygon points="152.7,464.69 156.89999999999998,468.89 152.7,473.09 148.5,468.89" fill="#111" stroke="none" stroke-width="1"/>
<polygon points="227.7,447.63 231.89999999999998,451.83 227.7,456.03 223.5,451.83" fill="#111" stroke="none" stroke-width="1"/>
<rect x="73.30000000000001" y="562.61" width="7.2" height="7.2" rx="0" fill="#fff" stroke="#111" stroke-width="1.2"/>
<rect x="149.1" y="527.97" width="7.2" height="7.2" rx="0" fill="#fff" stroke="#111" stroke-width="1.2"/>
<rect x="224.1" y="496.46" width="7.2" height="7.2" rx="0" fill="#fff" stroke="#111" stroke-width="1.2"/>
<polygon points="75.40,535.92 76.34,537.38 78.02,537.83 76.92,539.17 77.02,540.90 75.40,540.27 73.78,540.90 73.88,539.17 72.78,537.83 74.46,537.38" fill="#111"/>
<polygon points="151.90,498.32 152.84,499.78 154.52,500.23 153.42,501.57 153.52,503.30 151.90,502.67 150.28,503.30 150.38,501.57 149.28,500.23 150.96,499.78" fill="#111"/>
<polygon points="227.70,470.62 228.64,472.08 230.32,472.53 229.22,473.87 229.32,475.60 227.70,474.97 226.08,475.60 226.18,473.87 225.08,472.53 226.76,472.08" fill="#111"/>
<line x1="75.2" y1="431" x2="93.6" y2="431" stroke="#111" stroke-width="1.6" />
<polygon points="84.4,427.1 87.5,431 84.4,434.9 81.30000000000001,431" fill="#111" stroke="none" stroke-width="1"/>
<line x1="75.2" y1="447" x2="91.5" y2="447" stroke="#111" stroke-width="1.4" />
<rect x="80.05" y="443.7" width="6.6" height="6.6" rx="0" fill="#fff" stroke="#111" stroke-width="1.2"/>
<text x="97.2" y="432.7" font-size="11" font-weight="bold" text-anchor="start" fill="#111" textLength="42.4" lengthAdjust="spacingAndGlyphs" >WTCD8</text>
<text x="97.2" y="449.5" font-size="11" font-weight="bold" text-anchor="start" fill="#111" textLength="81.6" lengthAdjust="spacingAndGlyphs" >WASp KO CD8</text>
<text x="78.4" y="590.8" font-size="10.5" font-weight="bold" text-anchor="middle" fill="#111" >0.1</text>
<text x="154.2" y="590.8" font-size="10.5" font-weight="bold" text-anchor="middle" fill="#111" >1</text>
<text x="229.2" y="590.8" font-size="10.5" font-weight="bold" text-anchor="middle" fill="#111" >10</text>
<text x="143" y="604.2" font-size="11.5" font-weight="bold" text-anchor="middle" fill="#111" >Anti-CD3 (ug/mL)</text>
<text x="0" y="0" font-size="10.8" font-weight="bold" text-anchor="middle" fill="#111" transform="translate(28.8,507.05) rotate(-90)"><tspan font-weight="normal">% &#946;<tspan font-size="8" dx="0.6">&#8211;</tspan></tspan><tspan dx="2">Hexosaminadase Release</tspan></text>
<line x1="344.9" y1="439.6" x2="344.9" y2="570.2" stroke="#111" stroke-width="1.6" />
<line x1="341.9" y1="570.2" x2="344.9" y2="570.2" stroke="#111" stroke-width="1.4" />
<text x="340.09999999999997" y="573.7" font-size="8.7" font-weight="bold" text-anchor="end" fill="#111" >0</text>
<line x1="341.9" y1="553.9" x2="344.9" y2="553.9" stroke="#111" stroke-width="1.4" />
<text x="340.09999999999997" y="557.4" font-size="8.7" font-weight="bold" text-anchor="end" fill="#111" >10</text>
<line x1="341.9" y1="537.6" x2="344.9" y2="537.6" stroke="#111" stroke-width="1.4" />
<text x="340.09999999999997" y="541.1" font-size="8.7" font-weight="bold" text-anchor="end" fill="#111" >20</text>
<line x1="341.9" y1="521.3" x2="344.9" y2="521.3" stroke="#111" stroke-width="1.4" />
<text x="340.09999999999997" y="524.8" font-size="8.7" font-weight="bold" text-anchor="end" fill="#111" >30</text>
<line x1="341.9" y1="505.0" x2="344.9" y2="505.0" stroke="#111" stroke-width="1.4" />
<text x="340.09999999999997" y="508.5" font-size="8.7" font-weight="bold" text-anchor="end" fill="#111" >40</text>
<line x1="341.9" y1="488.7" x2="344.9" y2="488.7" stroke="#111" stroke-width="1.4" />
<text x="340.09999999999997" y="492.2" font-size="8.7" font-weight="bold" text-anchor="end" fill="#111" >50</text>
<line x1="341.9" y1="472.4" x2="344.9" y2="472.4" stroke="#111" stroke-width="1.4" />
<text x="340.09999999999997" y="475.9" font-size="8.7" font-weight="bold" text-anchor="end" fill="#111" >60</text>
<line x1="341.9" y1="456.1" x2="344.9" y2="456.1" stroke="#111" stroke-width="1.4" />
<text x="340.09999999999997" y="459.6" font-size="8.7" font-weight="bold" text-anchor="end" fill="#111" >70</text>
<line x1="341.9" y1="439.8" x2="344.9" y2="439.8" stroke="#111" stroke-width="1.4" />
<text x="340.09999999999997" y="443.3" font-size="8.7" font-weight="bold" text-anchor="end" fill="#111" >80</text>
<line x1="344.9" y1="570.2" x2="518.3" y2="570.2" stroke="#111" stroke-width="1.6" />
<line x1="365.3" y1="570.2" x2="365.3" y2="573.7" stroke="#111" stroke-width="1.4" />
<line x1="436.2" y1="570.2" x2="436.2" y2="573.7" stroke="#111" stroke-width="1.4" />
<line x1="506.8" y1="570.2" x2="506.8" y2="573.7" stroke="#111" stroke-width="1.4" />
<line x1="365.3" y1="503.1" x2="365.3" y2="539.4" stroke="#111" stroke-width="1.6" />
<line x1="361.6" y1="503.1" x2="369.0" y2="503.1" stroke="#111" stroke-width="1.6" />
<line x1="361.6" y1="539.4" x2="369.0" y2="539.4" stroke="#111" stroke-width="1.6" />
<line x1="436.2" y1="492" x2="436.2" y2="502.4" stroke="#111" stroke-width="1.6" />
<line x1="432.5" y1="492" x2="439.9" y2="492" stroke="#111" stroke-width="1.6" />
<line x1="432.5" y1="502.4" x2="439.9" y2="502.4" stroke="#111" stroke-width="1.6" />
<line x1="506.8" y1="478.8" x2="506.8" y2="489.2" stroke="#111" stroke-width="1.6" />
<line x1="503.1" y1="478.8" x2="510.5" y2="478.8" stroke="#111" stroke-width="1.6" />
<line x1="503.1" y1="489.2" x2="510.5" y2="489.2" stroke="#111" stroke-width="1.6" />
<line x1="365.3" y1="561.2" x2="365.3" y2="577.5" stroke="#111" stroke-width="1.6" />
<line x1="361.6" y1="561.2" x2="369.0" y2="561.2" stroke="#111" stroke-width="1.6" />
<line x1="361.6" y1="577.5" x2="369.0" y2="577.5" stroke="#111" stroke-width="1.6" />
<line x1="436.2" y1="537.7" x2="436.2" y2="548.1" stroke="#111" stroke-width="1.6" />
<line x1="432.5" y1="537.7" x2="439.9" y2="537.7" stroke="#111" stroke-width="1.6" />
<line x1="432.5" y1="548.1" x2="439.9" y2="548.1" stroke="#111" stroke-width="1.6" />
<line x1="506.8" y1="523" x2="506.8" y2="528" stroke="#111" stroke-width="1.6" />
<line x1="503.1" y1="523" x2="510.5" y2="523" stroke="#111" stroke-width="1.6" />
<line x1="503.1" y1="528" x2="510.5" y2="528" stroke="#111" stroke-width="1.6" />
<polyline points="365.3,567.75 436.2,543.47 506.8,525.54" fill="none" stroke="#111" stroke-width="1.6" stroke-dasharray="5,3"/>
<polyline points="365.3,520.32 436.2,497.01 506.8,484.14" fill="none" stroke="#111" stroke-width="1.8"/>
<polygon points="365.3,516.12 369.5,520.32 365.3,524.5200000000001 361.1,520.32" fill="#111" stroke="none" stroke-width="1"/>
<polygon points="436.2,492.81 440.4,497.01 436.2,501.21 432.0,497.01" fill="#111" stroke="none" stroke-width="1"/>
<polygon points="506.8,479.94 511.0,484.14 506.8,488.34 502.6,484.14" fill="#111" stroke="none" stroke-width="1"/>
<rect x="361.7" y="564.15" width="7.2" height="7.2" rx="0" fill="#fff" stroke="#111" stroke-width="1.2"/>
<rect x="432.59999999999997" y="539.87" width="7.2" height="7.2" rx="0" fill="#fff" stroke="#111" stroke-width="1.2"/>
<rect x="503.2" y="521.9399999999999" width="7.2" height="7.2" rx="0" fill="#fff" stroke="#111" stroke-width="1.2"/>
<polygon points="367.00,548.32 367.94,549.78 369.62,550.23 368.52,551.57 368.62,553.30 367.00,552.67 365.38,553.30 365.48,551.57 364.38,550.23 366.06,549.78" fill="#111"/>
<polygon points="432.45,520.62 433.39,522.08 435.07,522.53 433.97,523.87 434.07,525.60 432.45,524.97 430.83,525.60 430.93,523.87 429.83,522.53 431.51,522.08" fill="#111"/>
<polygon points="437.95,520.62 438.89,522.08 440.57,522.53 439.47,523.87 439.57,525.60 437.95,524.97 436.33,525.60 436.43,523.87 435.33,522.53 437.01,522.08" fill="#111"/>
<polygon points="502.95,498.12 503.89,499.58 505.57,500.03 504.47,501.37 504.57,503.10 502.95,502.47 501.33,503.10 501.43,501.37 500.33,500.03 502.01,499.58" fill="#111"/>
<polygon points="508.45,498.12 509.39,499.58 511.07,500.03 509.97,501.37 510.07,503.10 508.45,502.47 506.83,503.10 506.93,501.37 505.83,500.03 507.51,499.58" fill="#111"/>
<line x1="366.9" y1="431.5" x2="383.1" y2="431.5" stroke="#111" stroke-width="1.6" />
<polygon points="375.0,427.6 378.1,431.5 375.0,435.4 371.9,431.5" fill="#111" stroke="none" stroke-width="1"/>
<line x1="366.9" y1="448.3" x2="383.1" y2="448.3" stroke="#111" stroke-width="1.4" />
<rect x="371.7" y="445.0" width="6.6" height="6.6" rx="0" fill="#fff" stroke="#111" stroke-width="1.2"/>
<text x="388.6" y="433.8" font-size="11" font-weight="bold" text-anchor="start" fill="#111" textLength="45.4" lengthAdjust="spacingAndGlyphs" >WT CD4</text>
<text x="388.6" y="450.7" font-size="11" font-weight="bold" text-anchor="start" fill="#111" textLength="80.9" lengthAdjust="spacingAndGlyphs" >WASp KO CD4</text>
<text x="366.8" y="592.2" font-size="10.5" font-weight="bold" text-anchor="middle" fill="#111" >0.1</text>
<text x="437.7" y="592.2" font-size="10.5" font-weight="bold" text-anchor="middle" fill="#111" >1</text>
<text x="508.3" y="592.2" font-size="10.5" font-weight="bold" text-anchor="middle" fill="#111" >10</text>
<text x="434.3" y="604.2" font-size="11.5" font-weight="bold" text-anchor="middle" fill="#111" >Anti-CD3 (ug/mL)</text>
<text x="0" y="0" font-size="10.87" font-weight="bold" text-anchor="middle" fill="#111" transform="translate(322.8,509.65) rotate(-90)"><tspan font-weight="normal">% &#946;<tspan font-size="8" dx="0.6">&#8211;</tspan></tspan><tspan dx="2">Hexosaminadase Release</tspan></text>
</svg>
</body></html>
